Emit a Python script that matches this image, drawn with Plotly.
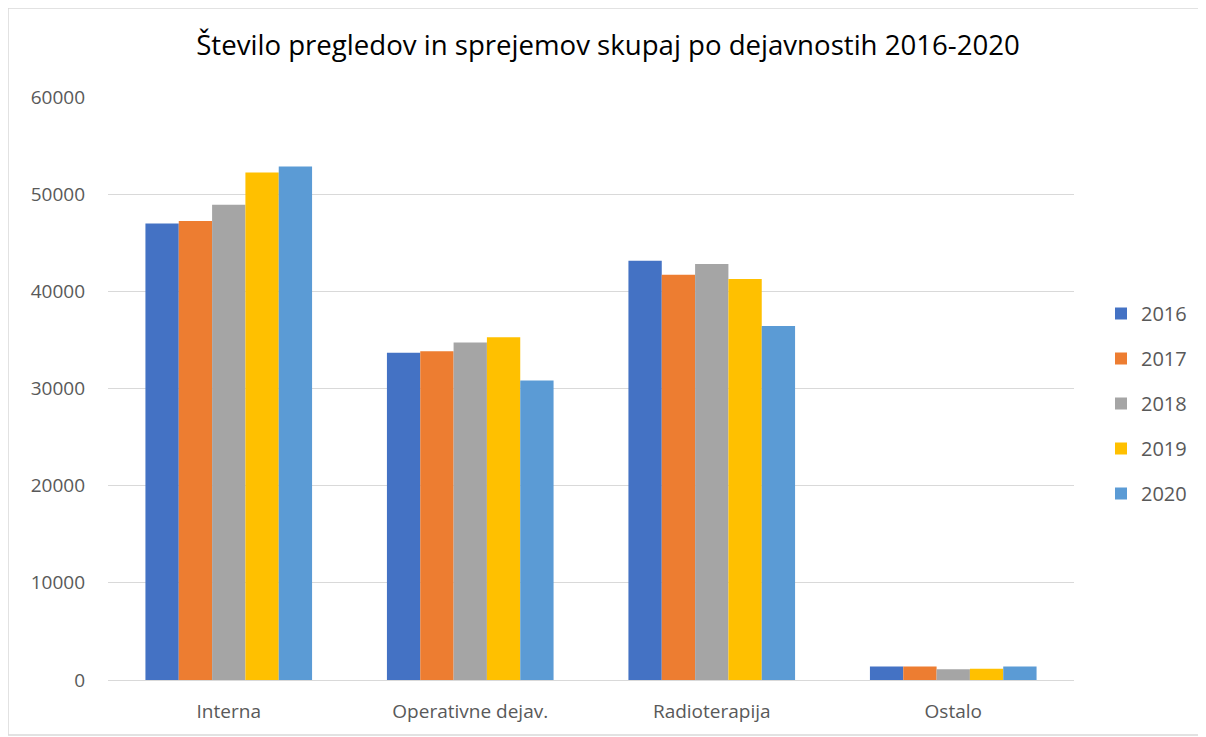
import plotly.graph_objects as go

categories = ["Interna", "Operativne dejav.", "Radioterapija", "Ostalo"]
years = ["2016", "2017", "2018", "2019", "2020"]
v2016 = [46980, 33670, 43150, 1400]
v2017 = [47230, 33840, 41710, 1400]
v2018 = [48900, 34730, 42810, 1100]
v2019 = [52220, 35270, 41270, 1150]
v2020 = [52840, 30820, 36440, 1400]
series = [v2016, v2017, v2018, v2019, v2020]
colors = ["#4472C4", "#ED7D31", "#A5A5A5", "#FFC000", "#5B9BD5"]

fig = go.Figure()
for year, vals, col in zip(years, series, colors):
    fig.add_trace(go.Bar(
        x=categories, y=vals, name=year, legendgroup=year,
        marker=dict(color=col, line=dict(width=0)),
    ))

# the page body adds an 8px margin, so work in target pixels minus 8
off = 8
W, H = 1206 - off, 737 - off
left, right, top, bottom = 108 - off, 1074 - off, 97 - off, 680 - off
ml, mr, mt, mb = left, W - right, top, H - bottom
pw, ph = right - left, bottom - top

def px_x(x):
    return (x - off - left) / pw

def px_y(y):
    return 1 - (y - off - top) / ph

fig.update_layout(
    width=W, height=H,
    margin=dict(l=ml, r=mr, t=mt, b=mb),
    plot_bgcolor="white", paper_bgcolor="white",
    font=dict(family="Open Sans", size=19, color="#595959"),
    title=dict(
        text="Število pregledov in sprejemov skupaj po dejavnostih 2016-2020",
        x=(608 - off) / W, xanchor="center", y=1 - (45 - off) / H, yanchor="middle",
        font=dict(family="Open Sans", size=27.6, color="black"),
    ),
    barmode="group", bargap=0.31, bargroupgap=0,
    legend=dict(
        x=px_x(1101), xanchor="left", y=px_y(294), yanchor="top",
        font=dict(size=20, color="#595959"), tracegroupgap=16,
        itemwidth=30,
    ),
    showlegend=True,
)
fig.update_xaxes(showgrid=False, showline=True, linecolor="#d9d9d9", linewidth=1,
                 tickfont=dict(size=19, color="#595959"), ticks="",
                 ticklabelstandoff=14)
fig.update_yaxes(range=[0, 60000], dtick=10000, showgrid=True, gridcolor="#d9d9d9",
                 zeroline=False, showline=False, tickformat="d",
                 tickfont=dict(size=19, color="#595959"), ticklabelstandoff=22)

# outer chart border
fig.add_shape(type="rect", xref="paper", yref="paper",
              x0=px_x(8), x1=px_x(1203),
              y0=px_y(735), y1=px_y(8),
              line=dict(color="#d9d9d9", width=1.5), layer="below")

fig.write_html("out.html")
